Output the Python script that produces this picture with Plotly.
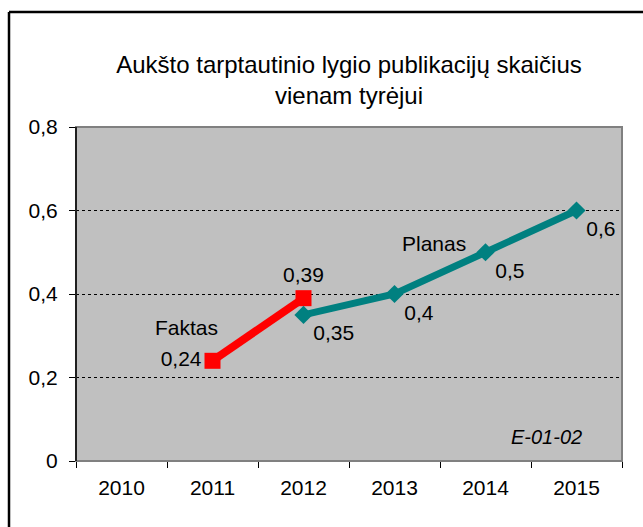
import plotly.graph_objects as go

years = ["2010", "2011", "2012", "2013", "2014", "2015"]
faktas_x = ["2011", "2012"]
faktas_y = [0.24, 0.39]
planas_x = ["2012", "2013", "2014", "2015"]
planas_y = [0.35, 0.4, 0.5, 0.6]
y_ticks = [0, 0.2, 0.4, 0.6, 0.8]

def fmt(v):
    return str(v).replace(".", ",")

FONT = "Liberation Sans, Arial, sans-serif"

fig = go.Figure()
fig.add_trace(go.Scatter(
    x=faktas_x, y=faktas_y, mode="lines+markers+text", name="Faktas",
    line=dict(color="#FF0000", width=8),
    marker=dict(symbol="square", size=16, color="#FF0000"),
    text=[fmt(v) for v in faktas_y],
    textposition=["middle left", "top center"],
    textfont=dict(family=FONT, size=21, color="black"),
    cliponaxis=False,
))
fig.add_trace(go.Scatter(
    x=planas_x, y=planas_y, mode="lines+markers+text", name="Planas",
    line=dict(color="#008080", width=7),
    marker=dict(symbol="diamond", size=14, color="#008080"),
    text=[fmt(v) for v in planas_y],
    textposition="bottom right",
    textfont=dict(family=FONT, size=21, color="black"),
    cliponaxis=False,
))

W, H = 643, 527
fig.update_layout(
    width=W, height=H,
    margin=dict(l=76, r=21, t=127, b=66),
    paper_bgcolor="white",
    plot_bgcolor="#C0C0C0",
    separators=", ",
    showlegend=False,
    font=dict(family=FONT, size=21, color="black"),
    title=dict(
        text="Aukšto tarptautinio lygio publikacijų skaičius<br>vienam tyrėjui",
        x=349 / W, xanchor="center", y=1 - 73 / H, yanchor="middle",
        font=dict(family=FONT, size=24, color="black"),
    ),
    xaxis=dict(
        type="category", categoryorder="array", categoryarray=years,
        range=[-0.5, 5.5], tickson="boundaries",
        ticks="outside", ticklen=6, tickcolor="black",
        showline=True, linecolor="black", linewidth=1,
        showgrid=False, zeroline=False, ticklabelstandoff=8,
        tickfont=dict(family=FONT, size=21, color="black"),
    ),
    yaxis=dict(
        range=[0, 0.8], tickvals=y_ticks,
        ticktext=[fmt(v) for v in y_ticks],
        ticks="outside", ticklen=6, tickcolor="black",
        showline=True, linecolor="black", linewidth=1,
        showgrid=True, gridcolor="black", griddash="dot", gridwidth=1,
        zeroline=False, ticklabelstandoff=7,
        tickfont=dict(family=FONT, size=21, color="black"),
    ),
    shapes=[
        dict(type="rect", xref="paper", yref="paper", x0=0, x1=1, y0=0, y1=1,
             line=dict(color="#808080", width=2), layer="above"),
        dict(type="line", xref="paper", yref="paper", x0=0, x1=0, y0=0, y1=1,
             line=dict(color="black", width=1.5), layer="above"),
        dict(type="line", xref="paper", yref="paper", x0=-0.1227, x1=-0.1227, y0=-0.5, y1=1.344,
             line=dict(color="black", width=2.5)),
        dict(type="line", xref="paper", yref="paper", x0=-0.1227, x1=1.2, y0=1.344, y1=1.344,
             line=dict(color="black", width=2.5)),
    ],
    annotations=[
        dict(text="Faktas", x=0.71, y=0.3186, xref="x", yref="y",
             showarrow=False, font=dict(family=FONT, size=21, color="black")),
        dict(text="Planas", x=3.43, y=0.52, xref="x", yref="y",
             showarrow=False, font=dict(family=FONT, size=21, color="black")),
        dict(text="<i>E-01-02</i>", x=(546 - 76) / 546, y=(461 - 437) / 334,
             xref="paper", yref="paper", xanchor="center", yanchor="middle",
             showarrow=False, font=dict(family=FONT, size=20, color="black")),
    ],
)

fig.write_html(
    "out.html",
    config={"displayModeBar": False},
    post_script="document.body.style.margin='0';document.body.style.overflow='hidden';",
)
